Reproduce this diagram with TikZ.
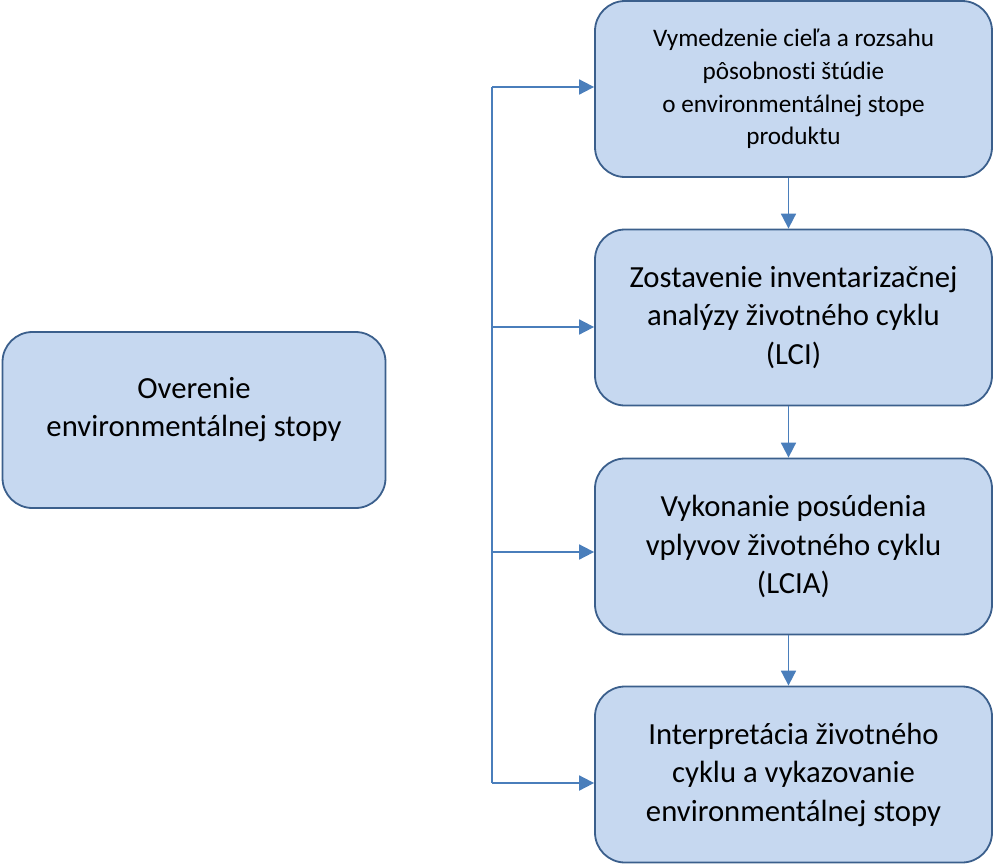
\documentclass[tikz,border=0pt]{standalone}
\usepackage{fontspec}
\setmainfont{Carlito}[Ligatures=NoCommon]
\usetikzlibrary{arrows.meta,calc}
\definecolor{boxfill}{HTML}{C6D8F0}
\definecolor{boxline}{HTML}{3B5F8C}
\definecolor{linkblue}{HTML}{4A7EBB}
\tikzset{
  stage/.style={draw=boxline,fill=boxfill,line width=1.8pt,rounded corners=30pt,
    minimum width=397pt,minimum height=176pt,align=center,
    font=\fontsize{30.7}{38.5}\selectfont},
  link/.style={draw=linkblue,line width=1.8pt,-{Triangle[length=15pt,width=15pt]}}
}
\begin{document}
\begin{tikzpicture}[x=1pt,y=-1pt]
\useasboundingbox (0,0) rectangle (994,865);
% left box
\node[stage,minimum width=383pt] (overenie) at (194,420)
  {Overenie\\environmentálnej stopy\\[-12pt]\mbox{}};
% right column
\node[stage,font=\fontsize{25.2}{32.8}\selectfont] (ciel) at (793.5,89)
  {Vymedzenie cieľa a rozsahu\\pôsobnosti štúdie\\o environmentálnej stope\\produktu};
\node[stage] (lci) at (793.5,317.5)
  {Zostavenie inventarizačnej\\analýzy životného cyklu\\(LCI)};
\node[stage] (lcia) at (793.5,546.5)
  {Vykonanie posúdenia\\vplyvov životného cyklu\\(LCIA)};
\node[stage] (interp) at (793.5,774.5)
  {Interpretácia životného\\cyklu a vykazovanie\\environmentálnej stopy};
% bracket on the left of the column
\coordinate (top) at (492,87);
\coordinate (bot) at (492,783);
\coordinate (mid1) at (492,327);
\coordinate (mid2) at (492,552);
\draw[linkblue,line width=1.8pt] (top) -- (bot);
\draw[link] (top) -- (top -| ciel.west);
\draw[link] (mid1) -- (mid1 -| lci.west);
\draw[link] (mid2) -- (mid2 -| lcia.west);
\draw[link] (bot) -- (bot -| interp.west);
% down the column
\draw[link] ([xshift=-5pt]ciel.south) -- ([xshift=-5pt]lci.north);
\draw[link] ([xshift=-5pt]lci.south) -- ([xshift=-5pt]lcia.north);
\draw[link] ([xshift=-5pt]lcia.south) -- ([xshift=-5pt]interp.north);
\end{tikzpicture}
\end{document}
